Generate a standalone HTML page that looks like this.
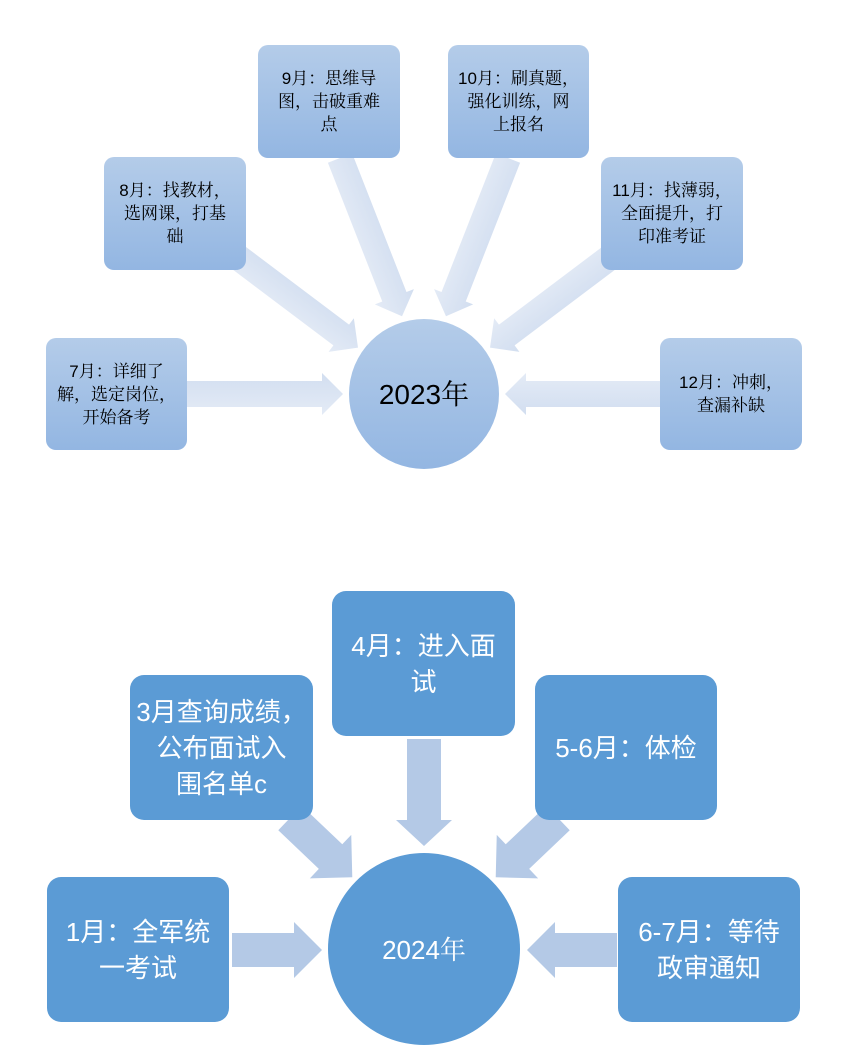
<!DOCTYPE html>
<html><head><meta charset="utf-8">
<style>
html,body{margin:0;padding:0;background:#fff;}
body{width:852px;height:1053px;position:relative;overflow:hidden;font-family:"Liberation Sans","Noto Sans CJK SC",sans-serif;}
.t{position:absolute;box-sizing:border-box;border-radius:10px;display:flex;align-items:center;justify-content:center;text-align:center;
 background:linear-gradient(#b4cce9,#93b6e2);color:#000;font-size:17px;line-height:23px;padding:0 1px;white-space:nowrap;
 font-family:"Liberation Sans","Noto Serif CJK SC",serif;}
.b{position:absolute;box-sizing:border-box;border-radius:14px;display:flex;align-items:center;justify-content:center;text-align:center;
 background:#5b9bd5;color:#fff;font-size:26px;line-height:36px;white-space:nowrap;}
svg{position:absolute;left:0;top:0;}
</style></head><body>
<svg width="852" height="1053">
<defs>
<linearGradient id="ag" x1="0" y1="0" x2="0" y2="1">
<stop offset="0" stop-color="#d2def0"/><stop offset="1" stop-color="#e4ebf6"/>
</linearGradient>
<linearGradient id="cg" x1="0" y1="0" x2="0" y2="1">
<stop offset="0" stop-color="#b4cce9"/><stop offset="1" stop-color="#93b6e2"/>
</linearGradient>
</defs>
<g transform="translate(187,394)"><polygon fill="url(#ag)" points="0,-13 135,-13 135,-21 156,0 135,21 135,13 0,13"/></g>
<g transform="translate(235,255) rotate(37)"><polygon fill="url(#ag)" points="0,-13 133,-13 133,-21 154,0 133,21 133,13 0,13"/></g>
<g transform="translate(340,158) rotate(68.6)"><polygon fill="url(#ag)" points="0,-13 149,-13 149,-21 170,0 149,21 149,13 0,13"/></g>
<g transform="translate(508,158) rotate(111.4)"><polygon fill="url(#ag)" points="0,-13 149,-13 149,-21 170,0 149,21 149,13 0,13"/></g>
<g transform="translate(613,255) rotate(143)"><polygon fill="url(#ag)" points="0,-13 133,-13 133,-21 154,0 133,21 133,13 0,13"/></g>
<g transform="translate(660,394) rotate(180)"><polygon fill="url(#ag)" points="0,-13 134,-13 134,-21 155,0 134,21 134,13 0,13"/></g>
<circle cx="424" cy="394" r="75" fill="url(#cg)"/>
<text x="424" y="404" font-size="28" text-anchor="middle" font-family="Liberation Sans, Noto Serif CJK SC, serif" fill="#000">2023年</text>
<g fill="#b4c9e6">
<g transform="translate(232,950)"><polygon points="0,-17 62,-17 62,-28 90,0 62,28 62,17 0,17"/></g>
<g transform="translate(617,950) rotate(180)"><polygon points="0,-17 62,-17 62,-28 90,0 62,28 62,17 0,17"/></g>
<g transform="translate(424,739) rotate(90)"><polygon points="0,-17 81,-17 81,-28 107,0 81,28 81,17 0,17"/></g>
<g transform="translate(290,818) rotate(43.6)"><polygon points="0,-17 56,-17 56,-30 86,0 56,30 56,17 0,17"/></g>
<g transform="translate(558,818) rotate(136.4)"><polygon points="0,-17 56,-17 56,-30 86,0 56,30 56,17 0,17"/></g>
</g>
<circle cx="424" cy="949" r="96" fill="#5b9bd5"/>
<text x="424" y="959" font-size="26" text-anchor="middle" font-family="Liberation Sans, Noto Serif CJK SC, serif" fill="#fff">2024年</text>
</svg>

<div class="t" style="left:46px;top:338px;width:141px;height:112px;">7月：详细了<br>解，选定岗位，<br>开始备考</div>
<div class="t" style="left:104px;top:157px;width:142px;height:113px;">8月：找教材，<br>选网课，打基<br>础</div>
<div class="t" style="left:258px;top:45px;width:142px;height:113px;">9月：思维导<br>图，击破重难<br>点</div>
<div class="t" style="left:448px;top:45px;width:141px;height:113px;">10月：刷真题，<br>强化训练，网<br>上报名</div>
<div class="t" style="left:601px;top:157px;width:142px;height:113px;">11月：找薄弱，<br>全面提升，打<br>印准考证</div>
<div class="t" style="left:660px;top:338px;width:142px;height:112px;">12月：冲刺，<br>查漏补缺</div>

<div class="b" style="left:47px;top:877px;width:182px;height:145px;">1月：全军统<br>一考试</div>
<div class="b" style="left:130px;top:675px;width:183px;height:145px;">3月查询成绩，<br>公布面试入<br>围名单c</div>
<div class="b" style="left:332px;top:591px;width:183px;height:145px;">4月：进入面<br>试</div>
<div class="b" style="left:535px;top:675px;width:182px;height:145px;">5-6月：体检</div>
<div class="b" style="left:618px;top:877px;width:182px;height:145px;">6-7月：等待<br>政审通知</div>
</body></html>
